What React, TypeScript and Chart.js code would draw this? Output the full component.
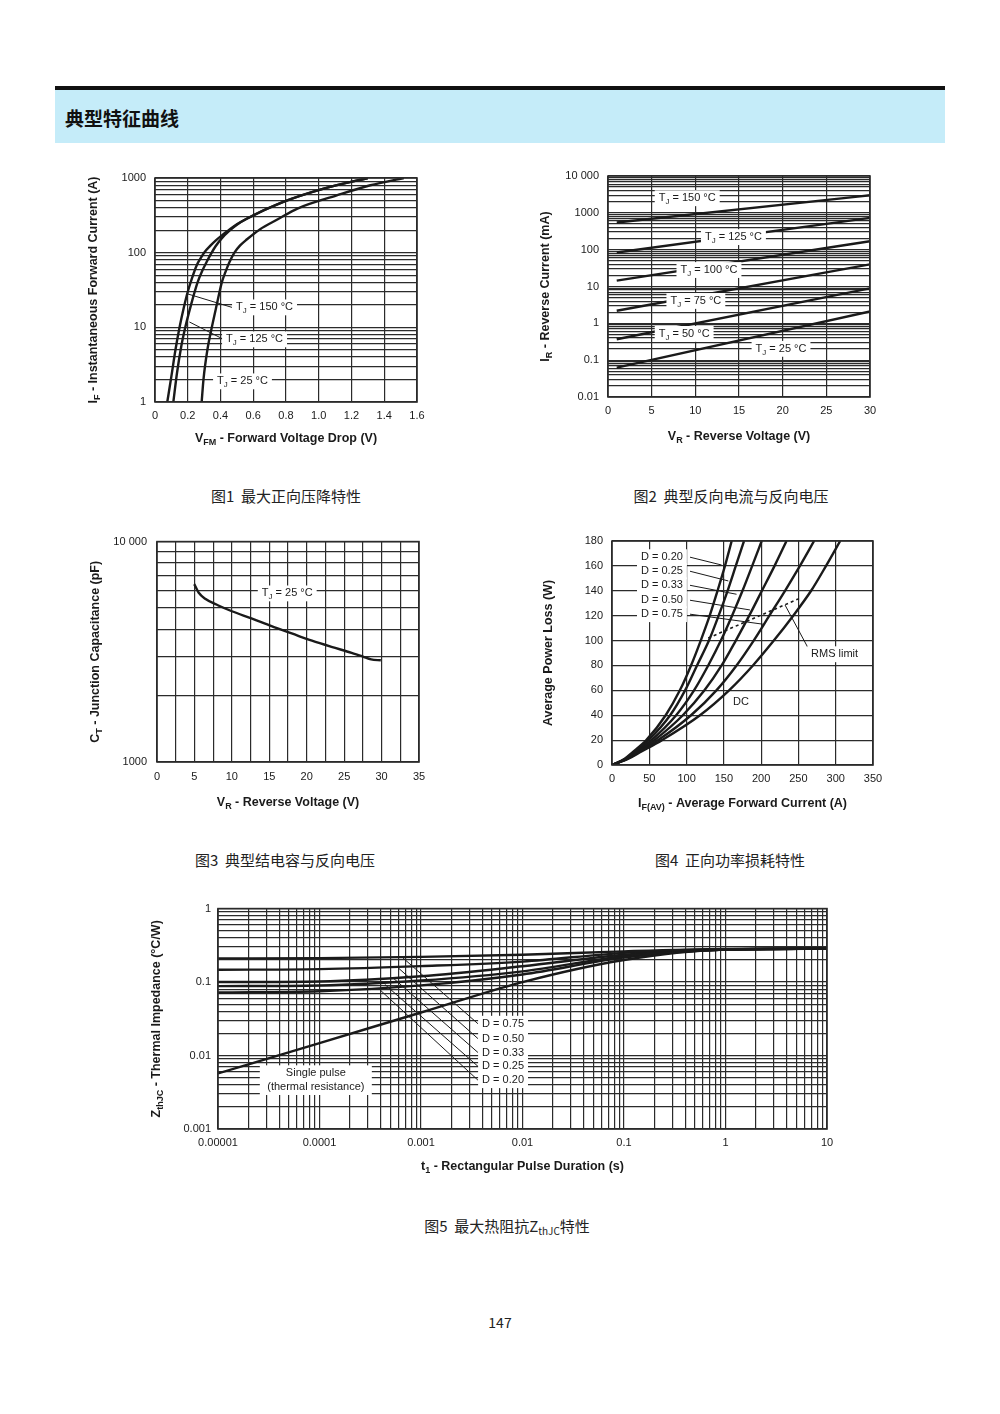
import React, { useEffect, useRef } from 'react';
import { Chart, registerables } from 'chart.js';

Chart.register(...registerables);

const FONT = '"Liberation Sans", Arial, Helvetica, sans-serif';
const CJK = '"Noto Sans CJK SC", "Noto Sans", sans-serif';
const INK = '#1a1a1a';
const GRID = '#2b2b2b';

// ---------------- Figure 1 : forward characteristics ----------------
const F1_X_GRID = [0, 0.2, 0.4, 0.6, 0.8, 1.0, 1.2, 1.4, 1.6];
const F1_X_LABELS = ['0', '0.2', '0.4', '0.6', '0.8', '1.0', '1.2', '1.4', '1.6'];
const F1_Y_LABEL_VALUES = [1, 10, 100, 1000];
const F1_Y_LABELS = ['1', '10', '100', '1000'];
const F1_T150_V = [0.075, 0.1, 0.125, 0.15, 0.175, 0.2, 0.225, 0.255, 0.28, 0.3, 0.34, 0.37, 0.41, 0.45, 0.5, 0.56, 0.78, 1.03, 1.3];
const F1_T150_I = [1, 2.2, 5, 10, 18, 30, 45, 68, 85, 100, 125, 145, 172, 200, 240, 285, 475, 720, 1000];
const F1_T125_V = [0.112, 0.135, 0.16, 0.185, 0.22, 0.26, 0.29, 0.315, 0.34, 0.37, 0.41, 0.45, 0.5, 0.56, 0.78, 1.03, 1.3];
const F1_T125_I = [1, 2.5, 5.5, 10, 20, 40, 58, 75, 95, 122, 158, 193, 237, 285, 475, 720, 1000];
const F1_T25_V = [0.285, 0.296, 0.32, 0.347, 0.377, 0.408, 0.43, 0.455, 0.485, 0.52, 0.56, 0.64, 0.75, 0.87, 1.11, 1.315, 1.52];
const F1_T25_I = [1, 2, 5, 10, 20, 40, 55, 75, 100, 125, 150, 205, 280, 390, 585, 800, 1000];
const F1_TEMPS = ['150', '125', '25'];

// ---------------- Figure 2 : reverse current ----------------
const F2_X_GRID = [0, 5, 10, 15, 20, 25, 30];
const F2_X_LABELS = ['0', '5', '10', '15', '20', '25', '30'];
const F2_Y_LABEL_VALUES = [0.01, 0.1, 1, 10, 100, 1000, 10000];
const F2_Y_LABELS = ['0.01', '0.1', '1', '10', '100', '1000', '10 000'];
const F2_V = [1, 30];
const F2_I150 = [545, 3000];
const F2_I125 = [84, 730];
const F2_I100 = [14.4, 170];
const F2_I75 = [2.2, 40];
const F2_I50 = [0.37, 8.9];
const F2_I25 = [0.063, 2.1];
const F2_TEMPS = ['150', '125', '100', '75', '50', '25'];

// ---------------- Figure 3 : junction capacitance ----------------
const F3_X_GRID = [0, 2.5, 5, 7.5, 10, 12.5, 15, 17.5, 20, 22.5, 25, 27.5, 30, 32.5, 35];
const F3_X_LABEL_VALUES = [0, 5, 10, 15, 20, 25, 30, 35];
const F3_X_LABELS = ['0', '5', '10', '15', '20', '25', '30', '35'];
const F3_Y_GRID = [1000, 2000, 3000, 4000, 5000, 6000, 7000, 8000, 9000, 10000];
const F3_Y_LABEL_VALUES = [1000, 10000];
const F3_Y_LABELS = ['1000', '10 000'];
const F3_V = [4.98, 5.55, 6.44, 8.2, 10, 12.7, 15.3, 18, 20.7, 23.3, 26, 27.5, 28.6, 29.9];
const F3_C = [6410, 5875, 5500, 5130, 4830, 4470, 4130, 3830, 3550, 3330, 3130, 3010, 2920, 2895];

// ---------------- Figure 4 : power loss ----------------
const F4_X_GRID = [0, 50, 100, 150, 200, 250, 300, 350];
const F4_X_LABELS = ['0', '50', '100', '150', '200', '250', '300', '350'];
const F4_Y_GRID = [0, 20, 40, 60, 80, 100, 120, 140, 160, 180];
const F4_Y_LABELS = ['0', '20', '40', '60', '80', '100', '120', '140', '160', '180'];
const F4_W = [0, 5, 10, 20, 40, 60, 80, 100, 120, 140, 160, 180];
const F4_A_D20 = [0, 17, 27, 46, 72, 91, 106, 119, 131, 141.5, 151.5, 160.5];
const F4_A_D25 = [0, 18, 29, 49, 78, 98, 114, 130, 143, 155, 166, 177];
const F4_A_D33 = [0, 19, 31, 53, 86, 110, 129, 146, 161, 175, 188, 200.7];
const F4_A_D50 = [0, 20, 33, 57, 95, 124, 147, 166, 184, 201, 218, 234];
const F4_A_D75 = [0, 21, 35, 62, 106, 140, 167, 190, 211, 232, 252, 271];
const F4_A_DC = [0, 22, 37, 67, 118, 157, 189, 217, 243, 267, 287, 306];
const F4_RMS_A = [129, 252];
const F4_RMS_W = [102, 134];
const F4_DUTY = ['0.20', '0.25', '0.33', '0.50', '0.75'];
const F4_DUTY_LABEL_W = [167, 155.7, 144.4, 132.4, 121.2];
const F4_DUTY_TARGET_A = [147, 156, 167, 185, 203];
const F4_DUTY_TARGET_W = [160.7, 147.9, 137.2, 124.6, 113.1];

// ---------------- Figure 5 : thermal impedance ----------------
const F5_X_LABEL_VALUES = [0.00001, 0.0001, 0.001, 0.01, 0.1, 1, 10];
const F5_X_LABELS = ['0.00001', '0.0001', '0.001', '0.01', '0.1', '1', '10'];
const F5_Y_LABEL_VALUES = [0.001, 0.01, 0.1, 1];
const F5_Y_LABELS = ['0.001', '0.01', '0.1', '1'];
const F5_T = [0.00001, 0.0001, 0.001, 0.01, 0.1, 1, 10];
const F5_D75 = [0.21, 0.212, 0.22, 0.235, 0.262, 0.282, 0.285];
const F5_D50 = [0.147, 0.15, 0.165, 0.19, 0.25, 0.28, 0.285];
const F5_D33 = [0.1, 0.102, 0.12, 0.164, 0.235, 0.278, 0.285];
const F5_D25 = [0.088, 0.09, 0.105, 0.14, 0.225, 0.277, 0.285];
const F5_D20 = [0.072, 0.075, 0.09, 0.127, 0.215, 0.276, 0.285];
const F5_SP = [0.0057, 0.0148, 0.0385, 0.1, 0.2, 0.278, 0.285];
const F5_DUTY = ['0.75', '0.50', '0.33', '0.25', '0.20'];
const F5_DUTY_LABEL_Z = [0.0271, 0.017, 0.011, 0.00713, 0.00462];
const F5_LEADER_T = [0.00064, 0.0006, 0.00053, 0.00044, 0.00039];
const F5_LEADER_Z = [0.223, 0.155, 0.114, 0.093, 0.0795];

// ---------------- helpers ----------------
type Seg = { t: string; sub?: boolean };
interface AxisSpec { type: 'linear' | 'logarithmic'; min: number; max: number; grid: number[]; label: (v: number) => string; pad: number }
interface LabelSpec { x: number; y: number; segs: Seg[]; align?: 'left' | 'center' | 'right'; box?: boolean; minW?: number; size?: number }
interface SeriesSpec { x: number[]; y: number[]; dash?: number[]; width?: number }
interface PlotSpec {
  canvas: { l: number; t: number; w: number; h: number };
  plot: { l: number; t: number; r: number; b: number };
  x: AxisSpec; y: AxisSpec;
  series: SeriesSpec[];
  labels: LabelSpec[];
  leaders: number[][];
  xTitle: Seg[]; yTitle: Seg[]; xTitleDy: number; yTitleDx: number;
}

function logGrid(lo: number, hi: number): number[] {
  const out: number[] = [];
  for (let e = lo; e < hi; e++) for (let k = 1; k < 10; k++) out.push(Number((k * Math.pow(10, e)).toPrecision(6)));
  out.push(Number(Math.pow(10, hi).toPrecision(6)));
  return out;
}
function lookup(vals: number[], labs: string[]) {
  return (v: number) => {
    const i = vals.findIndex((u) => Math.abs(u - v) <= Math.abs(u) * 1e-6 + 1e-12);
    return i >= 0 ? labs[i] : '';
  };
}
const tj = (t: string): Seg[] => [{ t: 'T' }, { t: 'J', sub: true }, { t: ' = ' + t + ' °C' }];
const plain = (t: string): Seg[] => [{ t }];

function fontOf(size: number, bold?: boolean) {
  return `${bold ? 'bold ' : ''}${size}px ${FONT}`;
}
function drawRich(ctx: CanvasRenderingContext2D, segs: Seg[], x: number, y: number,
  o: { size: number; bold?: boolean; align?: string; rotate?: boolean; box?: boolean; minW?: number }) {
  ctx.save();
  ctx.translate(x, y);
  if (o.rotate) ctx.rotate(-Math.PI / 2);
  let w = 0;
  for (const s of segs) { ctx.font = fontOf(s.sub ? o.size * 0.72 : o.size, o.bold); w += ctx.measureText(s.t).width; }
  let sx = o.align === 'center' ? -w / 2 : o.align === 'right' ? -w : 0;
  if (o.box) {
    const bw = Math.max(w, o.minW || 0);
    const bx = o.align === 'center' ? -bw / 2 : o.align === 'right' ? -bw : 0;
    ctx.fillStyle = '#fff';
    ctx.fillRect(bx - 4, -o.size * 0.72, bw + 8, o.size * 1.44);
  }
  ctx.fillStyle = INK;
  ctx.textBaseline = 'middle';
  ctx.textAlign = 'left';
  for (const s of segs) {
    const sz = s.sub ? o.size * 0.72 : o.size;
    ctx.font = fontOf(sz, o.bold);
    ctx.fillText(s.t, sx, s.sub ? o.size * 0.32 : 0);
    sx += ctx.measureText(s.t).width;
  }
  ctx.restore();
}

function annotPlugin(s: PlotSpec) {
  return {
    id: 'annot',
    afterDatasetsDraw(chart: any) {
      const ctx: CanvasRenderingContext2D = chart.ctx;
      const xs = chart.scales.x;
      const ys = chart.scales.y;
      const ca = chart.chartArea;
      ctx.save();
      ctx.strokeStyle = GRID;
      ctx.lineWidth = 1.6;
      ctx.strokeRect(ca.left, ca.top, ca.right - ca.left, ca.bottom - ca.top);
      ctx.strokeStyle = INK;
      ctx.lineWidth = 1;
      for (const [x1, y1, x2, y2] of s.leaders) {
        ctx.beginPath();
        ctx.moveTo(xs.getPixelForValue(x1), ys.getPixelForValue(y1));
        ctx.lineTo(xs.getPixelForValue(x2), ys.getPixelForValue(y2));
        ctx.stroke();
      }
      for (const l of s.labels) {
        drawRich(ctx, l.segs, xs.getPixelForValue(l.x), ys.getPixelForValue(l.y),
          { size: l.size || 11, align: l.align || 'left', box: l.box, minW: l.minW });
      }
      drawRich(ctx, s.xTitle, (ca.left + ca.right) / 2, ca.bottom + s.xTitleDy, { size: 12.5, bold: true, align: 'center' });
      drawRich(ctx, s.yTitle, ca.left - s.yTitleDx, (ca.top + ca.bottom) / 2, { size: 12.5, bold: true, align: 'center', rotate: true });
      ctx.restore();
    },
  };
}

function buildConfig(s: PlotSpec): any {
  const padTop = s.plot.t - s.canvas.t;
  const padRight = s.canvas.l + s.canvas.w - s.plot.r;
  const yW = s.plot.l - s.canvas.l;
  const xH = s.canvas.t + s.canvas.h - s.plot.b;
  const axis = (a: AxisSpec, horizontal: boolean) => ({
    type: a.type,
    min: a.min,
    max: a.max,
    position: horizontal ? 'bottom' : 'left',
    afterBuildTicks: (sc: any) => { sc.ticks = a.grid.map((v) => ({ value: v })); },
    afterFit: (sc: any) => { if (horizontal) sc.height = xH; else sc.width = yW; },
    grid: { color: GRID, lineWidth: 1.2, drawTicks: false },
    border: { display: false },
    ticks: {
      autoSkip: false, maxRotation: 0, minRotation: 0, padding: a.pad, color: INK,
      font: { family: FONT, size: 11 },
      callback: (v: any) => a.label(Number(v)),
    },
  });
  return {
    type: 'line',
    data: {
      datasets: s.series.map((sr) => ({
        data: sr.x.map((x, i) => ({ x, y: sr.y[i] })),
        borderColor: INK,
        borderWidth: sr.width ?? 2.4,
        borderDash: sr.dash ?? [],
        pointRadius: 0,
        fill: false,
        cubicInterpolationMode: 'monotone',
      })),
    },
    options: {
      responsive: false,
      animation: false,
      devicePixelRatio: 1,
      events: [],
      layout: { padding: { top: padTop, right: padRight, left: 0, bottom: 0 } },
      scales: { x: axis(s.x, true), y: axis(s.y, false) },
      plugins: { legend: { display: false }, tooltip: { enabled: false } },
    },
    plugins: [annotPlugin(s)],
  };
}

// ---------------- specs ----------------
const SPEC1: PlotSpec = {
  canvas: { l: 80, t: 160, w: 370, h: 295 },
  plot: { l: 155, t: 178, r: 417, b: 402 },
  x: { type: 'linear', min: 0, max: 1.6, grid: F1_X_GRID, label: lookup(F1_X_GRID, F1_X_LABELS), pad: 7 },
  y: { type: 'logarithmic', min: 1, max: 1000, grid: logGrid(0, 3), label: lookup(F1_Y_LABEL_VALUES, F1_Y_LABELS), pad: 9 },
  series: [
    { x: F1_T150_V, y: F1_T150_I },
    { x: F1_T125_V, y: F1_T125_I },
    { x: F1_T25_V, y: F1_T25_I },
  ],
  labels: [
    { x: 0.495, y: 18.5, segs: tj(F1_TEMPS[0]), box: true },
    { x: 0.434, y: 6.9, segs: tj(F1_TEMPS[1]), box: true },
    { x: 0.379, y: 1.89, segs: tj(F1_TEMPS[2]), box: true },
  ],
  leaders: [[0.2, 28, 0.47, 18.5], [0.21, 11.8, 0.41, 7.06]],
  xTitle: [{ t: 'V' }, { t: 'FM', sub: true }, { t: ' - Forward Voltage Drop (V)' }],
  yTitle: [{ t: 'I' }, { t: 'F', sub: true }, { t: ' - Instantaneous Forward Current (A)' }],
  xTitleDy: 37, yTitleDx: 61,
};

const SPEC2: PlotSpec = {
  canvas: { l: 530, t: 160, w: 370, h: 295 },
  plot: { l: 608, t: 176, r: 870, b: 397 },
  x: { type: 'linear', min: 0, max: 30, grid: F2_X_GRID, label: lookup(F2_X_GRID, F2_X_LABELS), pad: 7 },
  y: { type: 'logarithmic', min: 0.01, max: 10000, grid: logGrid(-2, 4), label: lookup(F2_Y_LABEL_VALUES, F2_Y_LABELS), pad: 9 },
  series: [
    { x: F2_V, y: F2_I150 }, { x: F2_V, y: F2_I125 }, { x: F2_V, y: F2_I100 },
    { x: F2_V, y: F2_I75 }, { x: F2_V, y: F2_I50 }, { x: F2_V, y: F2_I25 },
  ],
  labels: [
    { x: 5.81, y: 2490, segs: tj(F2_TEMPS[0]), box: true },
    { x: 11.1, y: 219, segs: tj(F2_TEMPS[1]), box: true },
    { x: 8.3, y: 28, segs: tj(F2_TEMPS[2]), box: true },
    { x: 7.15, y: 4.05, segs: tj(F2_TEMPS[3]), box: true },
    { x: 5.81, y: 0.516, segs: tj(F2_TEMPS[4]), box: true },
    { x: 16.9, y: 0.203, segs: tj(F2_TEMPS[5]), box: true },
  ],
  leaders: [],
  xTitle: [{ t: 'V' }, { t: 'R', sub: true }, { t: ' - Reverse Voltage (V)' }],
  yTitle: [{ t: 'I' }, { t: 'R', sub: true }, { t: ' - Reverse Current (mA)' }],
  xTitleDy: 40, yTitleDx: 62,
};

const SPEC3: PlotSpec = {
  canvas: { l: 80, t: 525, w: 370, h: 295 },
  plot: { l: 157, t: 538, r: 419, b: 762 },
  x: { type: 'linear', min: 0, max: 35, grid: F3_X_GRID, label: lookup(F3_X_LABEL_VALUES, F3_X_LABELS), pad: 8 },
  y: { type: 'logarithmic', min: 1000, max: 10000, grid: F3_Y_GRID, label: lookup(F3_Y_LABEL_VALUES, F3_Y_LABELS), pad: 10 },
  series: [{ x: F3_V, y: F3_C }],
  labels: [{ x: 14.0, y: 5820, segs: tj('25'), box: true }],
  leaders: [],
  xTitle: [{ t: 'V' }, { t: 'R', sub: true }, { t: ' - Reverse Voltage (V)' }],
  yTitle: [{ t: 'C' }, { t: 'T', sub: true }, { t: ' - Junction Capacitance (pF)' }],
  xTitleDy: 41, yTitleDx: 61,
};

const SPEC4: PlotSpec = {
  canvas: { l: 530, t: 525, w: 370, h: 295 },
  plot: { l: 612, t: 541, r: 873, b: 765 },
  x: { type: 'linear', min: 0, max: 350, grid: F4_X_GRID, label: lookup(F4_X_GRID, F4_X_LABELS), pad: 7 },
  y: { type: 'linear', min: 0, max: 180, grid: F4_Y_GRID, label: lookup(F4_Y_GRID, F4_Y_LABELS), pad: 9 },
  series: [
    { x: F4_A_D20, y: F4_W }, { x: F4_A_D25, y: F4_W }, { x: F4_A_D33, y: F4_W },
    { x: F4_A_D50, y: F4_W }, { x: F4_A_D75, y: F4_W }, { x: F4_A_DC, y: F4_W },
    { x: F4_RMS_A, y: F4_RMS_W, dash: [3, 3], width: 1.6 },
  ],
  labels: [
    ...F4_DUTY.map((d, i) => ({ x: 38.9, y: F4_DUTY_LABEL_W[i], segs: plain('D = ' + d), box: true })),
    { x: 266.9, y: 89, segs: plain('RMS limit'), box: true },
    { x: 173, y: 50.6, segs: plain('DC'), align: 'center' as const },
  ],
  leaders: [
    ...F4_DUTY.map((_, i) => [104.6, F4_DUTY_LABEL_W[i], F4_DUTY_TARGET_A[i], F4_DUTY_TARGET_W[i]]),
    [263, 94, 232, 128.6],
  ],
  xTitle: [{ t: 'I' }, { t: 'F(AV)', sub: true }, { t: ' - Average Forward Current (A)' }],
  yTitle: [{ t: 'Average Power Loss (W)' }],
  xTitleDy: 39, yTitleDx: 63,
};

const SPEC5: PlotSpec = {
  canvas: { l: 140, t: 895, w: 720, h: 290 },
  plot: { l: 218, t: 907, r: 827, b: 1129 },
  x: { type: 'logarithmic', min: 0.00001, max: 10, grid: logGrid(-5, 1), label: lookup(F5_X_LABEL_VALUES, F5_X_LABELS), pad: 7 },
  y: { type: 'logarithmic', min: 0.001, max: 1, grid: logGrid(-3, 0), label: lookup(F5_Y_LABEL_VALUES, F5_Y_LABELS), pad: 7 },
  series: [
    { x: F5_T, y: F5_D75 }, { x: F5_T, y: F5_D50 }, { x: F5_T, y: F5_D33 },
    { x: F5_T, y: F5_D25 }, { x: F5_T, y: F5_D20 }, { x: F5_T, y: F5_SP },
  ],
  labels: [
    ...F5_DUTY.map((d, i) => ({ x: 0.004, y: F5_DUTY_LABEL_Z[i], segs: plain('D = ' + d), box: true })),
    { x: 0.000092, y: 0.00574, segs: plain('Single pulse'), align: 'center' as const, box: true, minW: 104 },
    { x: 0.000092, y: 0.00372, segs: plain('(thermal resistance)'), align: 'center' as const, box: true, minW: 104 },
  ],
  leaders: F5_DUTY.map((_, i) => [F5_LEADER_T[i], F5_LEADER_Z[i], 0.00364, F5_DUTY_LABEL_Z[i]]),
  xTitle: [{ t: 't' }, { t: '1', sub: true }, { t: ' - Rectangular Pulse Duration (s)' }],
  yTitle: [{ t: 'Z' }, { t: 'thJC', sub: true }, { t: ' - Thermal Impedance (°C/W)' }],
  xTitleDy: 38, yTitleDx: 61,
};

// ---------------- components ----------------
function Plot({ spec }: { spec: PlotSpec }) {
  const ref = useRef<HTMLCanvasElement | null>(null);
  useEffect(() => {
    if (!ref.current) return;
    const chart = new Chart(ref.current, buildConfig(spec));
    return () => chart.destroy();
  }, [spec]);
  const c = spec.canvas;
  return (
    <canvas ref={ref} width={c.w} height={c.h}
      style={{ position: 'absolute', left: c.l, top: c.t, width: c.w, height: c.h }} />
  );
}

function Caption({ cx, cy, children }: { cx: number; cy: number; children: React.ReactNode }) {
  return (
    <div style={{
      position: 'absolute', left: cx - 250, top: cy - 11, width: 500, height: 22, lineHeight: '22px',
      textAlign: 'center', fontFamily: CJK, fontSize: 15, color: '#222', whiteSpace: 'nowrap',
    }}>{children}</div>
  );
}

export default function App() {
  return (
    <div style={{ position: 'absolute', left: 0, top: 0, width: 1000, height: 1414, background: '#fff', overflow: 'hidden' }}>
      <div style={{ position: 'absolute', left: 55, top: 86, width: 890, height: 4, background: '#111' }} />
      <div style={{ position: 'absolute', left: 55, top: 90, width: 890, height: 53, background: '#c5ecf9' }} />
      <div style={{
        position: 'absolute', left: 65, top: 104, height: 28, lineHeight: '28px',
        fontFamily: CJK, fontWeight: 700, fontSize: 19, color: '#111',
      }}>典型特征曲线</div>

      <Plot spec={SPEC1} />
      <Plot spec={SPEC2} />
      <Plot spec={SPEC3} />
      <Plot spec={SPEC4} />
      <Plot spec={SPEC5} />

      <Caption cx={286} cy={496}>图1&nbsp;&nbsp;最大正向压降特性</Caption>
      <Caption cx={731} cy={496}>图2&nbsp;&nbsp;典型反向电流与反向电压</Caption>
      <Caption cx={285} cy={860}>图3&nbsp;&nbsp;典型结电容与反向电压</Caption>
      <Caption cx={730} cy={860}>图4&nbsp;&nbsp;正向功率损耗特性</Caption>
      <Caption cx={507} cy={1226}>
        图5&nbsp;&nbsp;最大热阻抗Z<span style={{ fontSize: 10, verticalAlign: '-3px' }}>thJC</span>特性
      </Caption>

      <div style={{
        position: 'absolute', left: 450, top: 1312, width: 100, textAlign: 'center',
        fontFamily: CJK, fontSize: 14, color: '#222', lineHeight: '20px',
      }}>147</div>
    </div>
  );
}
